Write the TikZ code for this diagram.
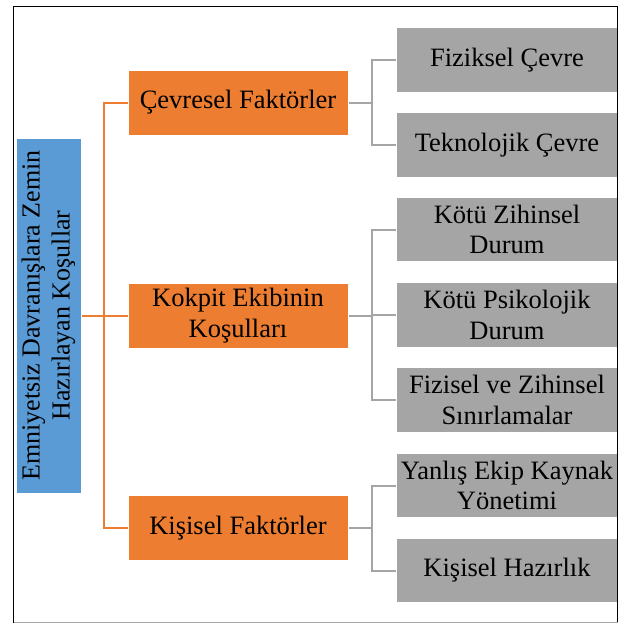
\documentclass[tikz,border=0pt]{standalone}
\usepackage{fontspec}
\setmainfont{Liberation Serif}
\usetikzlibrary{backgrounds}
\definecolor{rootblue}{HTML}{5B9BD5}
\definecolor{midorange}{HTML}{ED7D31}
\definecolor{leafgray}{HTML}{A5A5A5}
\tikzset{
  box/.style={draw=white, line width=0.8pt, inner sep=2pt, outer sep=0pt,
    align=center, text=black, font=\fontsize{26.5}{30.5}\selectfont},
  rootbox/.style={box, fill=rootblue, rotate=90, minimum width=355pt, minimum height=65pt,
    font=\fontsize{26}{30}\selectfont},
  midbox/.style={box, fill=midorange, minimum width=220pt, minimum height=65pt},
  leafbox/.style={box, fill=leafgray, minimum width=222pt, minimum height=64.5pt},
  oline/.style={draw=midorange, line width=2pt},
  gline/.style={draw=leafgray, line width=2pt},
}
\begin{document}
\begin{tikzpicture}[x=1pt, y=-1pt]
\useasboundingbox (0,0) rectangle (620,624);

% root
\node[rootbox] (root) at (48.5,315.5) {Emniyetsiz Davranışlara Zemin\\Hazırlayan Koşullar};

% second level
\node[midbox] (cevre)   at (238,102.5) {Çevresel Faktörler};
\node[midbox] (kokpit)  at (238,315.5) {Kokpit Ekibinin\\Koşulları};
\node[midbox] (kisisel) at (238,528)   {Kişisel Faktörler};

% leaves
\node[leafbox] (fiz)   at (507,60)    {Fiziksel Çevre};
\node[leafbox] (tek)   at (507,145)   {Teknolojik Çevre};
\node[leafbox] (zih)   at (507,229.5) {Kötü Zihinsel\\Durum};
\node[leafbox] (psi)   at (507,315)   {Kötü Psikolojik\\Durum};
\node[leafbox] (sin)   at (507,400)   {Fizisel ve Zihinsel\\Sınırlamalar};
\node[leafbox] (ekip)  at (507,485.5) {Yanlış Ekip Kaynak\\Yönetimi};
\node[leafbox] (haz)   at (507,570.5) {Kişisel Hazırlık};

% bracket columns
\coordinate (ocol) at (104,0);
\coordinate (gcol) at (372,0);

\begin{scope}[on background layer]
  % root to second level
  \draw[oline] (root.south) -- (root.south -| ocol);
  \draw[oline] (cevre.west) -- (cevre.west -| ocol) -- (kisisel.west -| ocol) -- (kisisel.west);
  \draw[oline] (kokpit.west -| ocol) -- (kokpit.west);
  % environment group
  \draw[gline] (cevre.east) -- (cevre.east -| gcol);
  \draw[gline] (fiz.west) -- (fiz.west -| gcol) -- (tek.west -| gcol) -- (tek.west);
  % crew group
  \draw[gline] (kokpit.east) -- (kokpit.east -| gcol);
  \draw[gline] (zih.west) -- (zih.west -| gcol) -- (sin.west -| gcol) -- (sin.west);
  \draw[gline] (psi.west -| gcol) -- (psi.west);
  % personal group
  \draw[gline] (kisisel.east) -- (kisisel.east -| gcol);
  \draw[gline] (ekip.west) -- (ekip.west -| gcol) -- (haz.west -| gcol) -- (haz.west);
\end{scope}

% outer frame
\draw[black, line width=1.5pt] (13.5,622.5) -- (13.5,6.5) -- (617.5,6.5) -- (617.5,622.5);
\draw[black!35, line width=1.5pt] (13.5,622.5) -- (617.5,622.5);
\end{tikzpicture}
\end{document}
